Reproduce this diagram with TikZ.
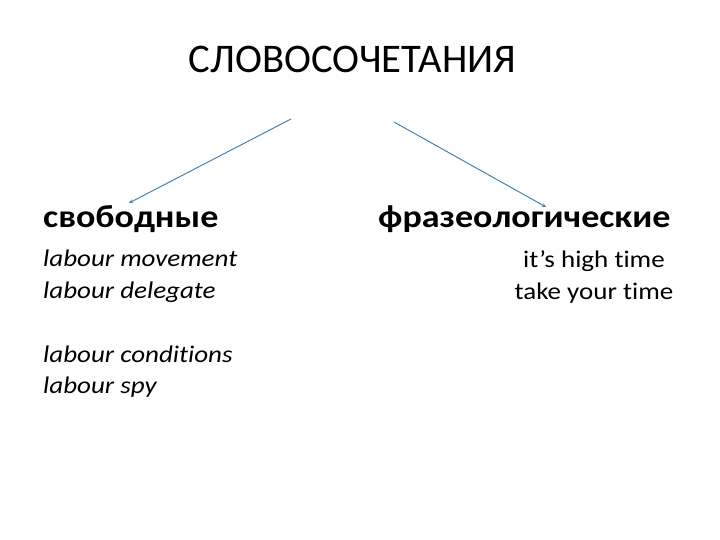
\documentclass[tikz,border=0pt]{standalone}
\usepackage{fontspec}
\setmainfont[Ligatures=NoCommon]{Carlito}
\newfontfamily\widefont[FakeStretch=1.13,Ligatures=NoCommon]{Carlito}
\usetikzlibrary{arrows.meta}
\definecolor{arrowblue}{HTML}{4A7EBB}
\tikzset{
  title/.style={font=\fontsize{40.8}{48}\selectfont, inner sep=0pt},
  head/.style={font=\widefont\bfseries\fontsize{32}{38}\selectfont, inner sep=0pt},
  ex/.style={font=\widefont\itshape\fontsize{24}{31}\selectfont, inner sep=0pt},
  exr/.style={font=\widefont\fontsize{24}{31}\selectfont, inner sep=0pt},
  conn/.style={draw=arrowblue, line width=1pt, -{Stealth[length=4pt,width=4pt]}}
}
\begin{document}
\begin{tikzpicture}[x=1bp,y=-1bp]
\useasboundingbox[fill=white] (0,0) rectangle (720,540);
\node[title, anchor=base] (t) at (352.5,73) {СЛОВОСОЧЕТАНИЯ};
\node[head, anchor=base west] (free) at (43,228) {свободные};
\node[head, anchor=base west] (phr) at (378,228) {фразеологические};
\node[ex, anchor=base west] (e1) at (43,267) {labour movement};
\node[ex, anchor=base west] (e2) at (43,298) {labour delegate};
\node[ex, anchor=base west] (e3) at (43,362) {labour conditions};
\node[ex, anchor=base west] (e4) at (43,393) {labour spy};
\node[exr, anchor=base] (p1) at (594,268) {it’s high time};
\node[exr, anchor=base] (p2) at (594,299) {take your time};
\coordinate (l0) at (291,119);
\coordinate (l1) at (129,203);
\coordinate (r0) at (394,122);
\coordinate (r1) at (546,207);
\draw[conn] (l0) -- (l1);
\draw[conn] (r0) -- (r1);
\end{tikzpicture}
\end{document}
